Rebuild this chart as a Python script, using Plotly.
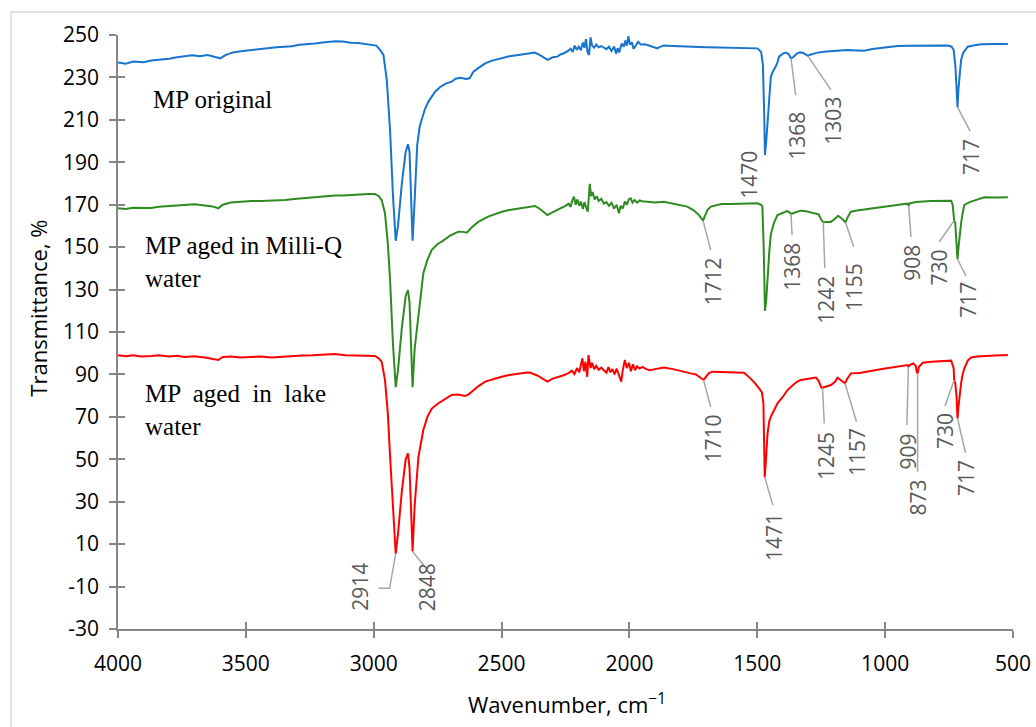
import numpy as np
import plotly.graph_objects as go

# ---------------- data ----------------
blue_wn = [4000,3970,3940,3900,3870,3840,3800,3770,3740,3710,3680,3650,3620,3600,3580,3550,3520,3500,3470,3440,
           3410,3380,3350,3320,3290,3260,3230,3200,3170,3150,3120,3090,3060,3030,3010,2990,2975,2962,2949,2936,
           2925,2914,2905,2890,2875,2866,2860,2854,2848,2840,2830,2820,2812,2800,2786,2770,2760,2740,2720,2695,
           2680,2660,2640,2625,2610,2590,2564,2540,2520,2499,2470,2434,2400,2370,2350,2330,2320,2300,2282,2270,
           2256,2240,2230,2222,2214,2206,2198,2190,2182,2176,2170,2164,2158,2152,2146,2138,2130,2120,2110,2100,
           2090,2080,2070,2060,2052,2046,2040,2030,2022,2016,2010,2004,1998,1990,1984,1976,1966,1956,1940,1930,
           1910,1891,1880,1865,1830,1800,1760,1734,1700,1650,1604,1560,1520,1499,1485,1478,1473,1470,1465,1458,
           1452,1447,1438,1428,1420,1415,1400,1388,1378,1368,1360,1345,1333,1320,1310,1303,1290,1265,1230,1200,
           1170,1147,1110,1082,1050,1000,951,900,850,800,755,740,732,725,720,717,713,708,703,695,
           685,677,650,625,580,520]
blue_t = [237,236.5,237.5,237.2,238,238.3,238.8,239.5,239.8,240.4,240,240.6,239.6,239,240.5,241.8,242.3,242.6,243,243.2,
          243.7,244.2,244.5,244.7,245.4,245.6,246,246.5,246.8,247,246.9,246.3,246.2,245.8,245.5,245,243,240.6,228.8,205,
          175,153,160,180,195,198.5,195,175,153,172,198,207,210,215,218.6,221.5,223.3,225.5,227,228,
          229.4,229.8,229.3,229.6,232.7,234.5,236.6,237.8,238.5,239,240,240.6,241.3,241.7,240.5,239,238.3,239.5,239.8,240.8,
          241.4,242.5,243.5,242,245,243,244.5,242.8,246.5,244,248,242,240.6,248.9,245,244,245.5,244.2,244.8,244,
          243.3,244.5,242.5,244.6,241.2,243.8,241.8,246,244.5,247.4,245,249.5,245.5,246.5,243.5,244.8,246.8,245.5,245.6,245.3,
          244.6,243.7,244.4,245,244.8,244.6,244.4,244.5,244.2,244.1,244,243.9,243.7,243.7,242,236,213,193.5,200,213,
          225,230.4,233,235.1,237.5,239.8,241.2,241.7,241,239,239.5,241.2,241.8,241.5,240.8,240.3,240.8,241.7,242.2,242.5,
          242.8,242.9,242.7,242.6,243.4,244.2,244.8,244.9,245,245,245,244.5,242.9,235,222,216,225,232,238.2,241.5,
          243.5,244.5,245.2,245.6,245.7,245.8]

green_wn = [4000,3970,3940,3900,3870,3840,3800,3770,3739,3700,3660,3630,3608,3590,3560,3520,3478,3440,3400,3347,
            3300,3250,3217,3180,3150,3120,3087,3050,3020,2995,2980,2969,2956,2945,2936,2925,2914,2905,2890,2875,
            2866,2860,2854,2848,2840,2825,2806,2790,2773,2750,2734,2700,2669,2650,2636,2615,2590,2550,2499,2470,
            2434,2400,2369,2350,2330,2321,2300,2282,2265,2250,2238,2230,2224,2217,2210,2204,2196,2190,2182,2176,
            2170,2163,2155,2150,2144,2136,2128,2120,2110,2100,2090,2080,2070,2060,2050,2041,2034,2026,2018,2010,
            2002,1995,1988,1980,1970,1960,1950,1930,1900,1865,1830,1800,1774,1750,1728,1718,1712,1704,1695,1682,
            1660,1640,1604,1560,1520,1499,1485,1480,1475,1470,1465,1460,1453,1447,1435,1421,1400,1383,1375,1368,
            1355,1340,1330,1310,1290,1278,1260,1250,1242,1230,1212,1195,1184,1170,1160,1155,1145,1134,1110,1082,
            1040,1000,951,925,912,908,904,880,821,780,742,736,732,730,726,722,717,713,708,703,
            697,690,670,651,630,612,570,520]
green_t = [168.3,168,168.6,168.3,168.4,169,169.3,169.6,169.9,170.2,169.6,169.2,168.3,170,171,171.4,171.7,171.8,172,172.2,
           172.8,173.3,173.8,174,174.3,174.3,174.6,174.7,175,175,174,172.2,166,152,134.5,105,84,92,112,127,
           129.8,124,104,84,102,118.8,137.7,144,148.7,151.5,152.6,155.5,157.3,157.2,156.8,159.5,162,164.5,166.7,167.5,
           168.3,169,169.4,168,166,165.1,166.5,167.5,168.8,169.5,170.5,169,171.8,173.8,170,172.5,169.5,171.5,168,171.2,
           169,166.7,179.8,174,176,172.5,174,171.8,172.8,170.5,171.2,169.5,171,168.2,170,166,169.5,168.2,171.5,170,
           172.6,173,171,172.2,171,172,171.6,171.3,171,171.4,170.6,170,169.1,167.5,165.1,163.4,162.5,165,167.5,169.1,
           169.6,170.3,170.3,170.5,170.7,170.7,170,169.1,150,120,125,136.1,148,156,161.5,165.1,166.2,167,166.5,165.6,
           166.2,166.8,167.2,166.9,166.4,166.2,165.5,163,161.7,161.8,161.9,163.5,164.8,163.5,162.5,161.7,164.5,166.7,167.3,167.8,
           168.6,169.2,169.9,170.3,170.5,169.5,170.6,171.3,171.7,171.9,171.9,170,166,162.5,161.5,155,144.3,150,157,161.2,
           166,169.9,171.2,171.9,172.8,173.5,173.4,173.5]

red_wn = [4000,3970,3940,3910,3870,3840,3800,3770,3740,3700,3660,3630,3608,3590,3560,3520,3480,3440,3400,3360,
          3320,3280,3240,3200,3152,3110,3070,3030,2995,2980,2969,2956,2945,2936,2925,2914,2905,2890,2875,2866,
          2860,2854,2848,2840,2825,2806,2790,2773,2747,2720,2695,2670,2643,2630,2617,2590,2564,2530,2500,2470,
          2434,2400,2387,2360,2340,2321,2300,2282,2260,2240,2225,2215,2205,2196,2190,2184,2178,2172,2165,2160,
          2152,2146,2138,2130,2120,2110,2100,2090,2082,2074,2066,2058,2050,2042,2032,2026,2018,2010,2002,1994,
          1986,1978,1970,1960,1950,1935,1920,1900,1865,1830,1800,1760,1740,1728,1718,1710,1700,1690,1676,1640,
          1600,1552,1530,1510,1490,1482,1476,1471,1466,1460,1453,1447,1435,1421,1400,1382,1360,1345,1330,1300,
          1271,1260,1249,1245,1230,1212,1196,1186,1175,1165,1157,1148,1134,1100,1082,1040,1000,951,925,912,
          909,904,890,880,876,873,868,853,820,780,742,736,732,730,726,721,717,713,708,703,
          697,690,677,664,640,612,570,520]
red_t = [99.1,98.6,99,98.5,98.7,99,98.4,98.8,98.2,98.6,98,97.5,96.8,98.2,98.4,98,98.2,98.5,98,98.4,
         98.6,98.9,99,99.2,99.6,99,98.8,98.8,98.7,97.5,96,87.4,72,51.3,25,5.5,15,35,50,52.8,
         46,25,6.5,28,51.3,63.8,70,73.9,76.4,78.5,80.3,80.5,79.8,80.5,81.9,84.5,86.6,88,88.9,89.7,
         90.5,90.9,90.8,89.5,88,86.6,88,88.6,89.5,90.5,91.8,90.2,93,91,94,97.6,91.5,96,88.9,99.1,
         93,95.5,92.5,94,92.2,93.2,92,90.8,93.5,91,92.5,90,92.8,89.5,86.6,92,96.8,93,95.5,91.5,
         94.8,92,93.8,92.8,93.5,92.5,92,92.5,93.3,92.5,91.5,90.5,90,88.9,88,87.4,89,90.5,91.3,91.2,
         91,90.8,88.5,86,83,81.5,76.4,41.5,50,62,68,70.1,73,76.4,79.5,82.6,85,86.5,87.4,88,
         88.5,87,83.7,83.7,84.3,85,86.5,88.5,87.5,86.5,85.8,88,90.5,90.7,91,92,92.8,93.6,94.2,94.4,
         93.5,94.4,95.2,94,91,90.5,93.5,95.5,96,96.3,96.5,94.5,92.9,87.4,86,80,69.3,75,81,85.8,
         90,92.9,96.5,98,98.4,98.7,98.9,99.1]

x_ticks = [4000, 3500, 3000, 2500, 2000, 1500, 1000, 500]
y_ticks = list(range(-30, 251, 20))
y_tick_text = [str(v) for v in y_ticks]

series_names = ["MP original", "MP aged in Milli-Q water", "MP aged in lake water"]
series_colors = ["#1874CD", "#2E8B22", "#FF0000"]

# peak labels: (series index, text, peak wn, leader end wn, leader end value, text wn, text value)
peak_series = [0, 0, 0, 0, 1, 1, 1, 1, 1, 1, 1, 2, 2, 2, 2, 2, 2, 2, 2, 2, 2]
peak_text = ["1470", "1368", "1303", "717", "1712", "1368", "1242", "1155", "908", "730", "717",
             "2914", "2848", "1710", "1471", "1245", "1157", "909", "873", "730", "717"]
peak_wn = [1470, 1368, 1303, 717, 1712, 1368, 1242, 1155, 908, 730, 717,
           2914, 2848, 1710, 1471, 1245, 1157, 909, 873, 730, 717]
lead_wn = [None, 1350, 1212, 668, 1682, 1364, 1236, 1123, 899, 789, 684,
           2981, 2805, 1682, 1439, 1238, 1112, 915, 873, 766, 686]
lead_t = [None, 221.7, 224.1, 204.7, 148.6, 155.7, 140.2, 150.2, 154.8, 152.4, 136.4,
          -10.8, 0.2, 74.6, 28.4, 66.9, 67.7, 66.2, 44.1, 75.1, 53.1]
label_wn = [1533, 1346, 1205, 664, 1675, 1362, 1232, 1121, 896, 788, 677,
            3055, 2791, 1675, 1434, 1232, 1110, 909, 870, 766, 684]
label_t = [184, 202.4, 209.5, 192.5, 133.6, 140.6, 125.1, 131.2, 142.5, 140.6, 125.1,
           -10.2, -10.2, 59.6, 13.4, 51.5, 53.4, 53.9, 32.2, 63.3, 41.2]
# bent leader for 2914
bend_wn, bend_t = 2938, -10.8

series = [(blue_wn, blue_t), (green_wn, green_t), (red_wn, red_t)]

fig = go.Figure()
for (wn, t), name, col in zip(series, series_names, series_colors):
    fig.add_trace(go.Scatter(x=wn, y=t, mode="lines", name=name,
                             line=dict(color=col, width=2), hoverinfo="skip"))

lead_col = "#A6A6A6"
for i, txt in enumerate(peak_text):
    wn, t = series[peak_series[i]]
    wa = np.array(wn[::-1], dtype=float)
    ta = np.array(t[::-1], dtype=float)
    y0 = float(np.interp(peak_wn[i], wa, ta))
    if lead_wn[i] is not None:
        xs = [peak_wn[i], lead_wn[i]]
        ys = [y0, lead_t[i]]
        if txt == "2914":
            xs = [peak_wn[i], bend_wn, lead_wn[i]]
            ys = [y0, bend_t, lead_t[i]]
        fig.add_trace(go.Scatter(x=xs, y=ys, mode="lines", showlegend=False,
                                 line=dict(color=lead_col, width=1.5), hoverinfo="skip"))
    fig.add_annotation(x=label_wn[i], y=label_t[i], text=txt, textangle=-90, showarrow=False,
                       xanchor="center", yanchor="middle",
                       font=dict(family="Open Sans", size=21, color="#595959"))

# series captions
cap_text = ["MP original", "MP aged in Milli-Q<br>water", "MP  aged  in  lake<br>water"]
cap_wn = [3871, 3902, 3902]
cap_t = [219.4, 143, 73.2]
for txt, xw, yt in zip(cap_text, cap_wn, cap_t):
    fig.add_annotation(x=xw, y=yt, text=txt, showarrow=False, xanchor="left", yanchor="middle",
                       align="left", font=dict(family="Liberation Serif", size=25, color="#000000"))

# invisible trace for overlay axes (crossing ticks)
fig.add_trace(go.Scatter(x=[4000], y=[-30], xaxis="x2", yaxis="y2", mode="markers",
                         marker=dict(opacity=0), showlegend=False, hoverinfo="skip"))

axcol = "#868686"
tickfont = dict(family="Open Sans", size=21, color="#000000")
fig.update_layout(
    width=1036, height=727,
    margin=dict(l=118, r=23, t=35, b=98, autoexpand=False),
    paper_bgcolor="white", plot_bgcolor="white",
    showlegend=False,
    xaxis=dict(range=[4000, 500], tickvals=x_ticks, ticks="outside", ticklen=7, tickwidth=1.5,
               tickcolor=axcol, showline=True, linecolor=axcol, linewidth=1.5, showgrid=False,
               zeroline=False, tickfont=tickfont, ticklabelstandoff=8, automargin=False),
    yaxis=dict(range=[-30, 250], tickvals=y_ticks, ticktext=y_tick_text, ticks="outside", ticklen=7,
               tickwidth=1.5, tickcolor=axcol, showline=True, linecolor=axcol, linewidth=1.5,
               showgrid=False, zeroline=False, tickfont=tickfont, ticklabelstandoff=6, automargin=False),
    xaxis2=dict(range=[4000, 500], overlaying="x", tickvals=x_ticks, ticks="inside", ticklen=7,
                tickwidth=1.5, tickcolor=axcol, showticklabels=False, showline=False, showgrid=False,
                zeroline=False, automargin=False),
    yaxis2=dict(range=[-30, 250], overlaying="y", tickvals=y_ticks, ticks="inside", ticklen=7,
                tickwidth=1.5, tickcolor=axcol, showticklabels=False, showline=False, showgrid=False,
                zeroline=False, automargin=False),
)

# axis titles
fig.add_annotation(xref="paper", yref="paper", x=-0.0894, y=0.541, text="Transmittance, %",
                   textangle=-90, showarrow=False, xanchor="center", yanchor="middle",
                   font=dict(family="Open Sans", size=22, color="#000000"))
fig.add_annotation(xref="paper", yref="paper", x=0.5017, y=-0.1246, text="Wavenumber, cm<sup>−1</sup>",
                   showarrow=False, xanchor="center", yanchor="middle",
                   font=dict(family="Open Sans", size=22, color="#000000"))

# outer chart border
fig.add_shape(type="rect", xref="paper", yref="paper", x0=-0.1196, y0=-0.25, x1=1.06, y1=1.0387,
              line=dict(color="#D9D9D9", width=1.5), fillcolor="rgba(0,0,0,0)", layer="below")

fig.write_html("out.html")
